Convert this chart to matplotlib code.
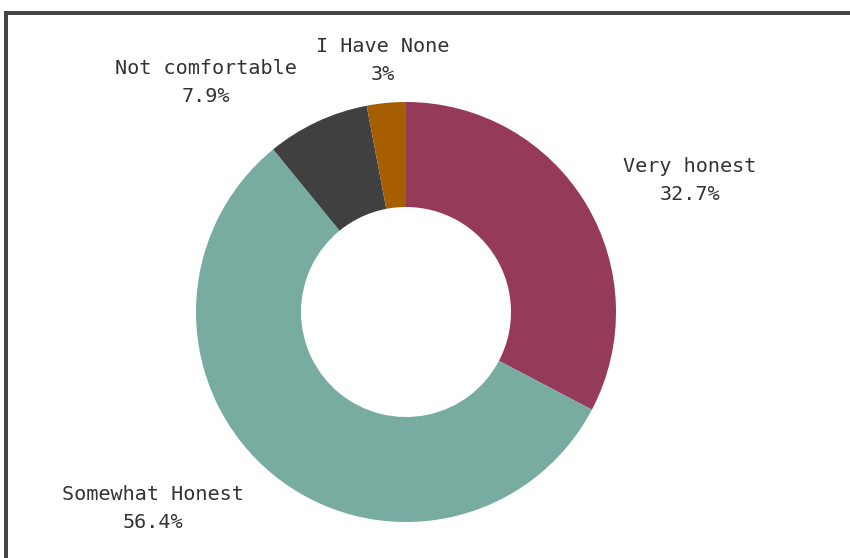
import matplotlib
matplotlib.use("Agg")
import matplotlib.pyplot as plt
from matplotlib.patches import Rectangle

# survey answers, clockwise from 12 o'clock
labels = ["Very honest", "Somewhat Honest", "Not comfortable", "I Have None"]
shares = [32.7, 56.4, 7.9, 3.0]
colours = ["#963A5A", "#78ACA1", "#404040", "#A65E00"]

# label block centres in pixels (x from left, y from top)
label_xy = [(690, 181), (153, 508), (206, 83), (383, 60)]

W, H = 850, 558
fig = plt.figure(figsize=(W / 100, H / 100), dpi=100)
fig.patch.set_facecolor("white")
ax = fig.add_axes([0, 0, 1, 1])

cx, cy, R = 406, H - 312, 210
ax.pie(shares, colors=colours, startangle=90, counterclock=False,
       center=(cx, cy), radius=R,
       wedgeprops=dict(width=R / 2, linewidth=0))

ax.set_xlim(0, W)
ax.set_ylim(0, H)
ax.set_aspect("equal")
ax.axis("off")

for name, val, (x, y) in zip(labels, shares, label_xy):
    pct = f"{val:g}%"
    ax.text(x, H - y, f"{name}\n{pct}", ha="center", va="center",
            family="DejaVu Sans Mono", fontsize=14.5, color="#333333",
            linespacing=1.6)

# dark frame: top and left edges only
frame_col = "#454545"
fig.add_artist(Rectangle((4 / W, 1 - 15 / H), 1, 4 / H,
                         transform=fig.transFigure, color=frame_col, lw=0))
fig.add_artist(Rectangle((4 / W, 0), 4 / W, 1 - 11 / H,
                         transform=fig.transFigure, color=frame_col, lw=0))

plt.savefig("out.png", dpi=100, facecolor=fig.get_facecolor())
plt.close()
